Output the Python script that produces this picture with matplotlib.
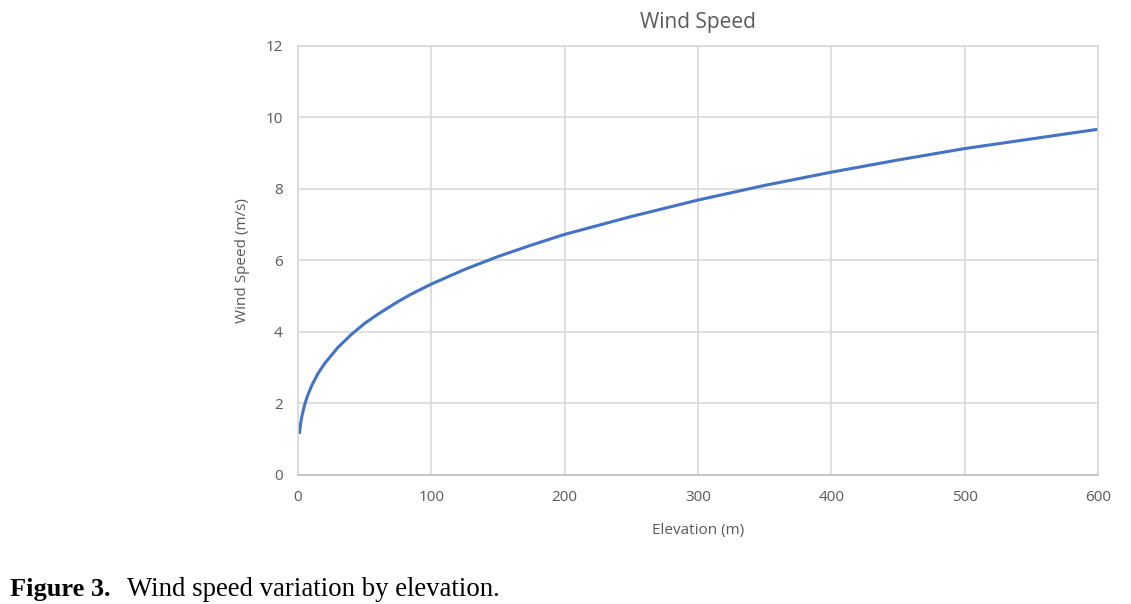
import matplotlib
matplotlib.use("Agg")
import matplotlib.pyplot as plt

# elevation (m) and wind speed (m/s)
elevation = [1, 2, 3, 5, 7, 10, 15, 20, 30, 40, 50, 60, 75, 85, 100, 125,
             150, 175, 200, 250, 300, 350, 400, 450, 500, 550, 600]
wind_speed = [1.15, 1.45, 1.66, 1.97, 2.20, 2.48, 2.84, 3.12, 3.57, 3.93,
              4.24, 4.50, 4.85, 5.06, 5.34, 5.75, 6.11, 6.43, 6.73, 7.23,
              7.69, 8.10, 8.47, 8.81, 9.13, 9.40, 9.67]

x_ticks = [0, 100, 200, 300, 400, 500, 600]
y_ticks = [0, 2, 4, 6, 8, 10, 12]

txt = "#595959"
grid = "#d9d9d9"
plt.rcParams['font.family'] = ['Open Sans', 'DejaVu Sans']

fig = plt.figure(figsize=(11.31, 6.04), dpi=100)
ax = fig.add_axes([0.2635, 0.2136, 0.7073, 0.7103])

ax.plot(elevation, wind_speed, color="#4472c4", linewidth=2.2,
        solid_capstyle="butt", solid_joinstyle="round")

ax.set_xlim(0, 600)
ax.set_ylim(0, 12)
ax.set_xticks(x_ticks)
ax.set_yticks(y_ticks)
ax.grid(True, color=grid, linewidth=1.2)
ax.set_axisbelow(True)
for s in ax.spines.values():
    s.set_color(grid)
    s.set_linewidth(1.2)
ax.spines['bottom'].set_color("#bfbfbf")
ax.tick_params(length=0, colors=txt, labelsize=11, pad=11)

ax.set_title("Wind Speed", color=txt, fontsize=15, pad=13)
ax.set_xlabel("Elevation (m)", color=txt, fontsize=11, labelpad=13)
ax.set_ylabel("Wind Speed (m/s)", color=txt, fontsize=11, labelpad=11)

fig.text(0.009, 0.013, "Figure 3.", family="Liberation Serif",
         fontweight="bold", fontsize=19, va="baseline")
fig.text(0.112, 0.013, "Wind speed variation by elevation.",
         family="Liberation Serif", fontsize=19.3, va="baseline")

fig.savefig("out.png", dpi=100)
